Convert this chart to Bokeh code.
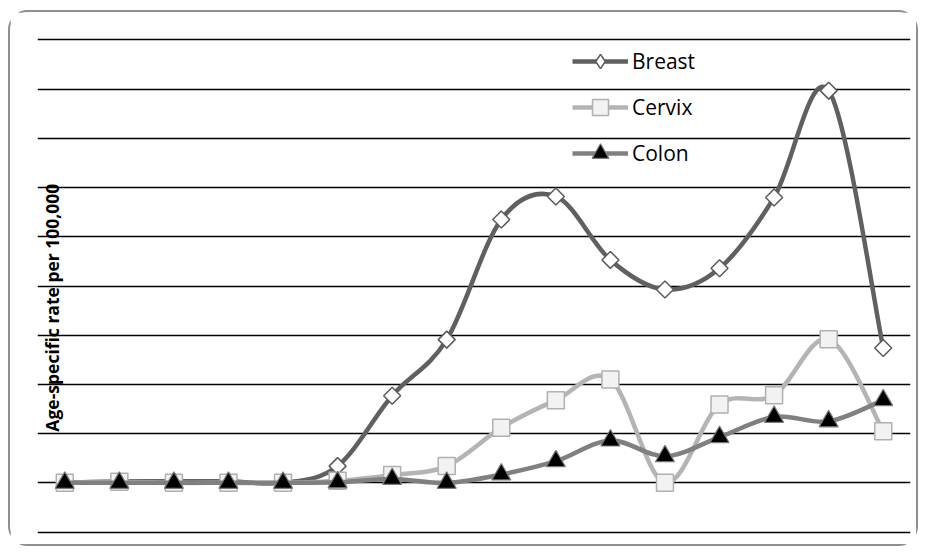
import math
import numpy as np
from bokeh.plotting import figure
from bokeh.models import Range1d, Legend, LegendItem, Label, FixedTicker, ColumnDataSource
from bokeh.embed import file_html
from bokeh.resources import INLINE

# ---- data ----
age_group_index = list(range(16))
breast = [0, 0.3, 0.3, 0.3, 0, 3.4, 17.7, 29.1, 53.5, 58.2, 45.3, 39.3, 43.6, 58.0, 79.7, 27.4]
cervix = [0, 0.2, 0, 0, 0, 0.4, 1.6, 3.4, 11.2, 16.8, 21.0, 0, 15.9, 17.8, 29.2, 10.5]
colon = [0, 0, 0, 0, 0, 0.1, 0.8, 0, 1.7, 4.4, 8.6, 5.4, 9.3, 13.4, 12.5, 16.8]
y_ticks = list(range(-10, 91, 10))
y_title = "Age-specific rate per 100,000"


def smooth_segments(xs, ys):
    """Catmull-Rom (Excel-like smoothing) expressed as cubic Bezier segments."""
    X = np.asarray(xs, float)
    Y = np.asarray(ys, float)
    Xp = np.concatenate([[X[0]], X, [X[-1]]])
    Yp = np.concatenate([[Y[0]], Y, [Y[-1]]])
    n = len(X)
    d = dict(x0=[], y0=[], x1=[], y1=[], cx0=[], cy0=[], cx1=[], cy1=[])
    for i in range(n - 1):
        d["x0"].append(X[i]); d["y0"].append(Y[i])
        d["x1"].append(X[i + 1]); d["y1"].append(Y[i + 1])
        d["cx0"].append(X[i] + (Xp[i + 2] - Xp[i]) / 6.0)
        d["cy0"].append(Y[i] + (Yp[i + 2] - Yp[i]) / 6.0)
        d["cx1"].append(X[i + 1] - (Xp[i + 3] - Xp[i + 1]) / 6.0)
        d["cy1"].append(Y[i + 1] - (Yp[i + 3] - Yp[i + 1]) / 6.0)
    return ColumnDataSource(d)


p = figure(width=906, height=532, output_backend="svg", toolbar_location=None,
           x_range=Range1d(-0.5, 15.5), y_range=Range1d(-10.5, 90.5),
           min_border_left=27, min_border_right=10, min_border_top=25, min_border_bottom=14)
p.styles = {"border": "2px solid #8e8e8e", "border-radius": "20px",
            "box-sizing": "content-box", "margin-left": "8px", "margin-top": "10px"}
p.background_fill_color = "white"
p.border_fill_color = "white"
p.outline_line_color = None
p.xaxis.visible = False
p.yaxis.visible = False
p.xgrid.visible = False
p.yaxis.ticker = FixedTicker(ticks=y_ticks)
p.ygrid.ticker = FixedTicker(ticks=y_ticks)
p.ygrid.grid_line_color = "black"
p.ygrid.grid_line_width = 1.4

styles = [
    ("Breast", breast, "#606060",
     dict(marker="square", angle=math.pi / 4, size=12, fill_color="white", line_color="#5a5a5a", line_width=1.5),
     dict(marker="diamond", fill_color="white", line_color="#5a5a5a", line_width=1.5), 36),
    ("Cervix", cervix, "#b4b4b4",
     dict(marker="square", size=17, fill_color="#f2f2f2", line_color="#b0b0b0", line_width=1.5),
     dict(marker="square", fill_color="#f2f2f2", line_color="#b0b0b0", line_width=1.5), 40),
    ("Colon", colon, "#808080",
     dict(marker="triangle", size=19, fill_color="black", line_color="#7a7a7a", line_width=1.2),
     dict(marker="triangle", fill_color="black", line_color="#7a7a7a", line_width=1.2), 42),
]

legend_items = []
nan = float("nan")
for name, ys, lc, mk, lmk, gh in styles:
    src = smooth_segments(age_group_index, ys)
    p.bezier(x0="x0", y0="y0", x1="x1", y1="y1", cx0="cx0", cy0="cy0", cx1="cx1", cy1="cy1",
             source=src, line_color=lc, line_width=4.5)
    p.scatter(x=age_group_index, y=ys, **mk)
    legend_line = p.line(x=[nan], y=[nan], line_color=lc, line_width=4.5)
    legend_marker = p.scatter(x=[nan], y=[nan], **lmk)
    legend_items.append((name, [legend_line, legend_marker], gh))

# frame (page coords): top 37, bottom 534, left 37
frame_bottom_page = 534
centers = [61, 107, 153]
for (name, rends, gh), yc in zip(legend_items, centers):
    bottom_page = yc + gh / 2.0
    lg = Legend(items=[LegendItem(label=name, renderers=rends)],
                location=(535, frame_bottom_page - bottom_page),
                glyph_width=56, glyph_height=gh, label_height=20, label_standoff=4,
                padding=0, margin=0, spacing=0,
                background_fill_alpha=0, border_line_alpha=0,
                label_text_font="Open Sans", label_text_font_size="21px",
                label_text_color="black")
    p.add_layout(lg, "center")

p.add_layout(Label(x=-0.5, y=35.6, x_offset=14, text=y_title, angle=math.pi / 2,
                   text_align="center", text_baseline="middle",
                   text_font="Open Sans", text_font_style="bold", text_font_size="17.5px",
                   text_color="black"))

open("out.html", "w").write(file_html(p, INLINE))
